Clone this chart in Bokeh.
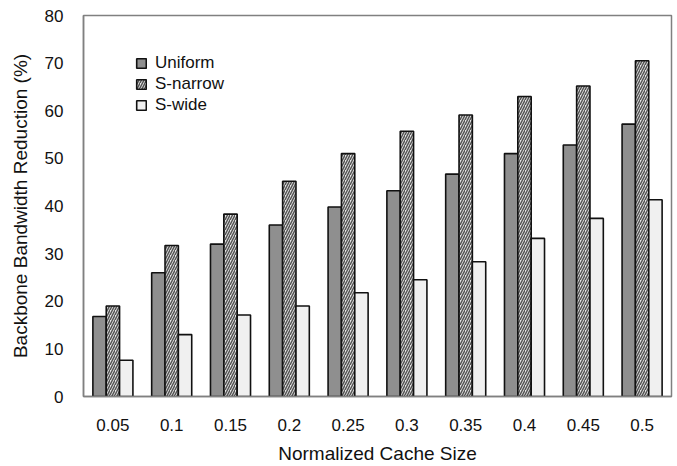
from bokeh.plotting import figure
from bokeh.models import FactorRange, Range1d, ColumnDataSource, Legend, LegendItem, FixedTicker
from bokeh.transform import dodge
from bokeh.embed import file_html
from bokeh.resources import INLINE

cache_sizes = ["0.05", "0.1", "0.15", "0.2", "0.25", "0.3", "0.35", "0.4", "0.45", "0.5"]
uniform = [16.8, 26.0, 32.0, 36.0, 39.8, 43.2, 46.7, 51.0, 52.8, 57.2]
s_narrow = [19.0, 31.7, 38.3, 45.2, 51.0, 55.7, 59.1, 63.0, 65.2, 70.5]
s_wide = [7.6, 13.0, 17.1, 19.0, 21.8, 24.5, 28.3, 33.2, 37.4, 41.3]
y_ticks = [0, 10, 20, 30, 40, 50, 60, 70, 80]

src = ColumnDataSource(dict(cat=cache_sizes, u=uniform, n=s_narrow, w=s_wide))

FONT = "Liberation Sans"
p = figure(width=673, height=466, x_range=FactorRange(*cache_sizes), y_range=Range1d(0, 80),
           output_backend="svg", toolbar_location=None,
           min_border_left=83, min_border_top=15, min_border_bottom=69, min_border_right=2)

bw = 0.227
r1 = p.vbar(x=dodge("cat", -bw, range=p.x_range), top="u", width=bw, source=src,
            fill_color="#8f8f8f", line_color="#111111", line_width=1.6)
r2 = p.vbar(x=dodge("cat", 0, range=p.x_range), top="n", width=bw, source=src,
            fill_color="#e6e6e6", hatch_pattern="right_diagonal_line", hatch_color="#555555",
            hatch_scale=5, hatch_weight=1.5, line_color="#111111", line_width=1.6)
r3 = p.vbar(x=dodge("cat", bw, range=p.x_range), top="w", width=bw, source=src,
            fill_color="#f0f0f0", line_color="#111111", line_width=1.6)

legend = Legend(items=[LegendItem(label="Uniform", renderers=[r1]),
                       LegendItem(label="S-narrow", renderers=[r2]),
                       LegendItem(label="S-wide", renderers=[r3])],
                location=(52, 281), border_line_color=None, background_fill_alpha=0,
                padding=0, margin=0, spacing=0, label_height=21, glyph_height=12, glyph_width=12,
                label_standoff=8, label_text_font=FONT, label_text_font_size="17px",
                label_text_color="#111111")
p.add_layout(legend, "center")

p.grid.grid_line_color = None
p.outline_line_color = "#808080"
p.outline_line_width = 1.5
p.background_fill_color = "white"

p.yaxis.ticker = FixedTicker(ticks=y_ticks)
for ax in (p.xaxis[0], p.yaxis[0]):
    ax.axis_line_color = "#808080"
    ax.axis_line_width = 1.5
    ax.major_tick_line_color = None
    ax.minor_tick_line_color = None
    ax.major_label_text_font = FONT
    ax.major_label_text_font_size = "17px"
    ax.major_label_text_color = "#111111"
    ax.axis_label_text_font = FONT
    ax.axis_label_text_font_style = "normal"
    ax.axis_label_text_color = "#111111"
    ax.axis_label_text_font_size = "19px"

p.xaxis.axis_label = "Normalized Cache Size"
p.yaxis.axis_label = "Backbone Bandwidth Reduction (%)"
p.xaxis.major_label_standoff = 16
p.xaxis.axis_label_standoff = 9
p.yaxis.major_label_standoff = 14
p.yaxis.axis_label_standoff = 11

open("out.html", "w").write(file_html(p, INLINE))
